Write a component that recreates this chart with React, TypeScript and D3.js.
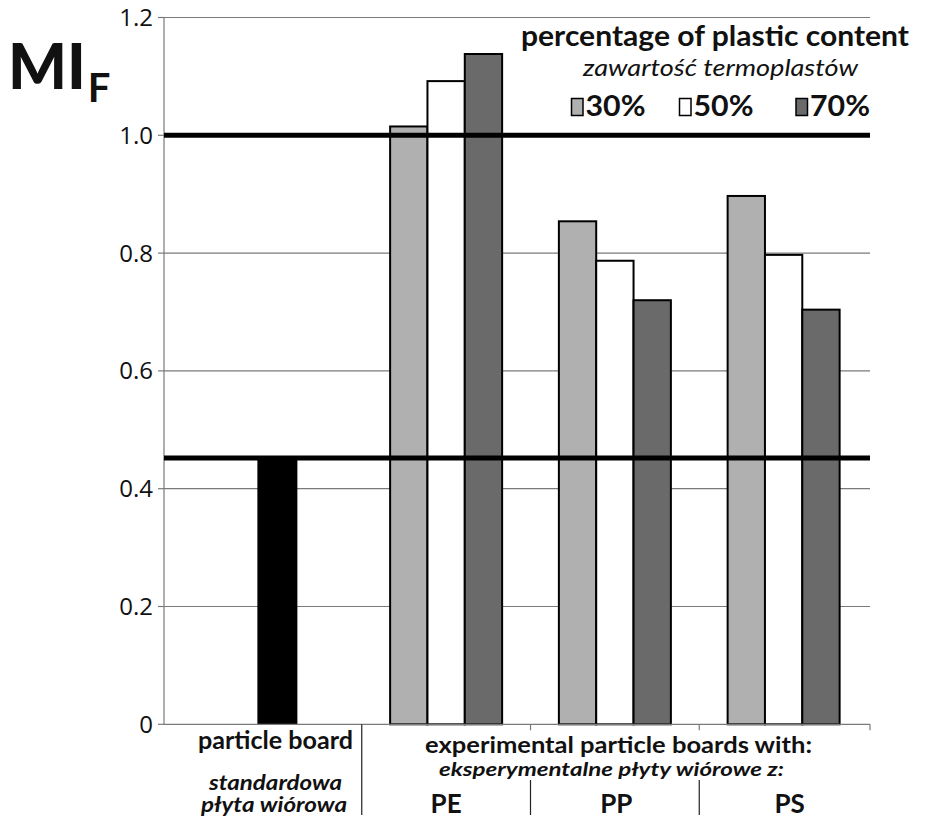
import React from "react";
import * as d3 from "d3";

const categories = ["particle board", "PE", "PP", "PS"];
const seriesNames = ["30%", "50%", "70%"];
const seriesColors = ["#b0b0b0", "#ffffff", "#6a6a6a"];
const values30 = [null, 1.015, 0.854, 0.897];
const values50 = [null, 1.092, 0.787, 0.797];
const values70 = [null, 1.138, 0.72, 0.704];
const particleBoardValue = 0.452;
const refLines = [1.0, 0.452];
const yTicks = [0, 0.2, 0.4, 0.6, 0.8, 1.0, 1.2];

const W = 932;
const H = 823;
const axisLeft = 164;
const axisRight = 870;

export default function App() {
  const y = d3.scaleLinear().domain([0, 1.2]).range([724.3, 17.5]);
  const x = d3.scaleBand().domain(categories).range([193, 868]);
  const series = [values30, values50, values70];
  const tickFont = "'Open Sans', 'DejaVu Sans', sans-serif";
  const font = "Lato, 'Open Sans', sans-serif";
  const fmt = (v: number) => (v === 0 ? "0" : d3.format(".1f")(v));
  const cxOf = (c: string) => x(c)! + x.bandwidth() / 2;

  const bars: React.ReactNode[] = [];
  categories.forEach((c, ci) => {
    const cx = cxOf(c);
    if (ci === 0) {
      bars.push(
        <rect key="pb" x={cx - 20} y={y(particleBoardValue)} width={40} height={y(0) - y(particleBoardValue)} fill="#000" />
      );
      return;
    }
    const sub = d3.scaleBand().domain(seriesNames).range([cx - 56, cx + 56]);
    series.forEach((s, si) => {
      const v = s[ci] as number;
      bars.push(
        <rect
          key={c + si}
          x={sub(seriesNames[si])!}
          y={y(v)}
          width={sub.bandwidth()}
          height={y(0) - y(v)}
          fill={seriesColors[si]}
          stroke="#000"
          strokeWidth={2}
        />
      );
    });
  });

  const sepX = categories.slice(1).map((c) => x(c)!);
  const labelOffsets = [0, 0, 1.5, 6];
  const legendX = [571.5, 679.5, 796];

  return (
    <svg width={W} height={H} style={{ position: "absolute", left: 0, top: 0, background: "#fff" }}>
      <rect x={0} y={0} width={W} height={H} fill="#fff" />
      {yTicks.filter((t) => t > 0).map((t) => (
        <line key={"g" + t} x1={axisLeft} x2={axisRight} y1={y(t)} y2={y(t)} stroke="#7a7a7a" strokeWidth={1.2} />
      ))}
      <line x1={axisLeft} x2={axisLeft} y1={y(1.2)} y2={y(0)} stroke="#7a7a7a" strokeWidth={1.2} />
      {yTicks.map((t) => (
        <g key={"t" + t}>
          <line x1={axisLeft - 6} x2={axisLeft} y1={y(t)} y2={y(t)} stroke="#7a7a7a" strokeWidth={1.2} />
          <text x={153} y={y(t)} dy="0.35em" textAnchor="end" fontFamily={tickFont} fontSize={24} fill="#111">
            {fmt(t)}
          </text>
        </g>
      ))}
      {bars}
      <line x1={axisLeft} x2={axisRight} y1={y(0)} y2={y(0)} stroke="#7a7a7a" strokeWidth={1.2} />
      <line x1={axisRight} x2={axisRight} y1={y(0)} y2={y(0) + 6} stroke="#7a7a7a" strokeWidth={1.2} />
      {refLines.map((r) => (
        <line key={"r" + r} x1={axisLeft} x2={axisRight} y1={y(r)} y2={y(r)} stroke="#000" strokeWidth={5} />
      ))}
      {/* category separators */}
      <line x1={sepX[0]} x2={sepX[0]} y1={y(0)} y2={815} stroke="#222" strokeWidth={1.2} />
      <line x1={sepX[1]} x2={sepX[1]} y1={y(0)} y2={y(0) + 6} stroke="#7a7a7a" strokeWidth={1.2} />
      <line x1={sepX[2]} x2={sepX[2]} y1={y(0)} y2={y(0) + 6} stroke="#7a7a7a" strokeWidth={1.2} />
      <line x1={sepX[1]} x2={sepX[1]} y1={780} y2={815} stroke="#222" strokeWidth={1.2} />
      <line x1={sepX[2]} x2={sepX[2]} y1={780} y2={815} stroke="#222" strokeWidth={1.2} />
      {/* x labels */}
      <text x={198} y={749} fontFamily={font} fontWeight="bold" fontSize={24} fill="#111" textLength={155} lengthAdjust="spacingAndGlyphs">
        particle board
      </text>
      <text x={209} y={790} fontFamily={font} fontStyle="italic" fontWeight="bold" fontSize={20} fill="#111" textLength={133} lengthAdjust="spacingAndGlyphs">
        standardowa
      </text>
      <text x={201} y={812} fontFamily={font} fontStyle="italic" fontWeight="bold" fontSize={20} fill="#111" textLength={146} lengthAdjust="spacingAndGlyphs">
        płyta wiórowa
      </text>
      <text x={425} y={753} fontFamily={font} fontWeight="bold" fontSize={23} fill="#111" textLength={387} lengthAdjust="spacingAndGlyphs">
        experimental particle boards with:
      </text>
      <text x={439} y={776} fontFamily={font} fontWeight="bold" fontStyle="italic" fontSize={18} fill="#111" textLength={345} lengthAdjust="spacingAndGlyphs">
        eksperymentalne płyty wiórowe z:
      </text>
      {categories.slice(1).map((c, i) => (
        <text key={"l" + c} x={cxOf(c) + labelOffsets[i + 1]} y={813} textAnchor="middle" fontFamily={font} fontWeight="bold" fontSize={26} fill="#111">
          {c}
        </text>
      ))}
      {/* y title */}
      <text x={8} y={89} fontFamily={font} fontWeight={900} fontSize={62} fill="#111">
        MI
        <tspan dx={2} dy={13} fontSize={40} fontWeight="bold">F</tspan>
      </text>
      {/* legend */}
      <text x={521} y={46} fontFamily={font} fontWeight="bold" fontSize={28} fill="#111" textLength={388} lengthAdjust="spacingAndGlyphs">
        percentage of  plastic content
      </text>
      <text x={583} y={76} fontFamily={font} fontStyle="italic" fontSize={23} fill="#111" textLength={275} lengthAdjust="spacingAndGlyphs">
        zawartość termoplastów
      </text>
      {seriesNames.map((s, i) => {
        const lx = legendX[i];
        return (
          <g key={"lg" + s}>
            <rect x={lx} y={98.5} width={11.5} height={17} fill={seriesColors[i]} stroke="#000" strokeWidth={1.5} />
            <text x={lx + 14} y={116} fontFamily={font} fontWeight="bold" fontSize={28} fill="#111" textLength={60} lengthAdjust="spacingAndGlyphs">
              {s}
            </text>
          </g>
        );
      })}
    </svg>
  );
}
